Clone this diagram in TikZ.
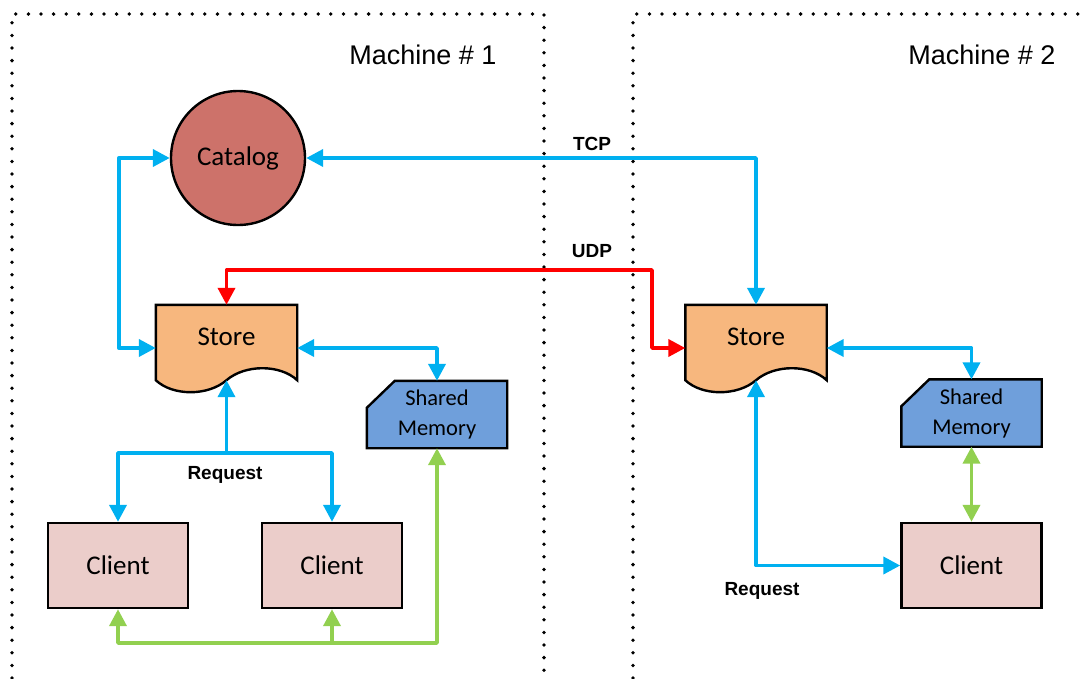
\documentclass[tikz,border=0pt]{standalone}
\usepackage{fontspec}
\setmainfont{Carlito}
\newfontfamily\arialfont{Liberation Sans}
\usetikzlibrary{arrows.meta,calc,backgrounds}

\definecolor{catfill}{RGB}{205,114,106}
\definecolor{storefill}{RGB}{247,183,126}
\definecolor{memfill}{RGB}{111,159,219}
\definecolor{clientfill}{RGB}{235,205,202}
\definecolor{linkblue}{RGB}{0,176,240}
\definecolor{linkred}{RGB}{255,0,0}
\definecolor{linkgreen}{RGB}{146,208,80}

% document-style outline with a wavy bottom edge
\newcommand\docoutline[2]{%
  \filldraw[outline, fill=#2] (#1.north west) -- (#1.north east)
    -- ([yshift=11pt]#1.south east)
    .. controls ([xshift=-17pt,yshift=27pt]#1.south east) and ([xshift=18.5pt,yshift=27pt]#1.south) .. ([yshift=11pt]#1.south)
    .. controls ([xshift=-18.5pt,yshift=-5pt]#1.south) and ([xshift=17pt,yshift=-5pt]#1.south west) .. ([yshift=11pt]#1.south west)
    -- cycle;}
% rectangle with its top-left corner cut off
\newcommand\snipoutline[2]{%
  \filldraw[outline, fill=#2] (#1.south west) -- ([yshift=-27pt]#1.north west)
    -- ([xshift=28pt]#1.north west) -- (#1.north east) -- (#1.south east) -- cycle;}

\tikzset{
  outline/.style={draw=black, line width=2.4pt, line join=miter},
  boxtext/.style={font=\fontsize{27}{30}\selectfont},
  docnode/.style={minimum width=141pt, minimum height=86pt, inner sep=0pt},
  memnode/.style={minimum width=140pt, minimum height=67pt, inner sep=0pt, align=center,
                  font=\fontsize{22.5}{30}\selectfont},
  clientnode/.style={outline, fill=clientfill, minimum width=140pt, minimum height=85pt,
                  inner sep=0pt, boxtext},
  catnode/.style={circle, outline, fill=catfill, minimum size=134pt, inner sep=0pt, boxtext},
  machine/.style={font=\arialfont\fontsize{27}{30}\selectfont},
  linklabel/.style={font=\arialfont\bfseries\fontsize{19}{22}\selectfont},
  conn/.style={line width=3.8pt, line join=round},
  blueconn/.style={conn, draw=linkblue},
  redconn/.style={conn, draw=linkred},
  greenconn/.style={conn, draw=linkgreen},
  region/.style={line width=3.8pt, line cap=round, dash pattern=on 0pt off 12.6pt},
  >={Triangle[length=17pt,width=17pt]}
}

\begin{document}
\begin{tikzpicture}[x=1pt,y=-1pt]
\useasboundingbox (0,0) rectangle (1082,678);

% machine regions
\draw[region] (12,678) -- (12,14) -- (544,14) -- (544,678);
\draw[region] (633,678) -- (633,14) -- (1082,14);
\node[machine] (m1) at (423,55) {Machine \# 1};
\node[machine] (m2) at (982,55) {Machine \# 2};

% machine 1
\node[catnode] (cat) at (238,158) {Catalog};
\node[docnode, label={[boxtext, yshift=11pt]center:Store}] (s1) at (226.5,348) {};
\node[memnode] (sm1) at (437,414.5) {Shared\\Memory};
\node[clientnode] (c1) at (118,565.5) {Client};
\node[clientnode] (c2) at (332,565.5) {Client};

% machine 2
\node[docnode, label={[boxtext, yshift=11pt]center:Store}] (s2) at (756,348) {};
\node[memnode] (sm2) at (971.5,413) {Shared\\Memory};
\node[clientnode] (c3) at (971.5,565.5) {Client};

\begin{pgfonlayer}{background}
  \docoutline{s1}{storefill}
  \docoutline{s2}{storefill}
  \snipoutline{sm1}{memfill}
  \snipoutline{sm2}{memfill}
\end{pgfonlayer}

% bends of the routed connectors
\coordinate (req1) at (226.5,453);
\coordinate (gbus) at (437,643);
\coordinate (udpbend) at (652,270);

% catalog links
\draw[blueconn, <->] (cat.west) -- ++(-51,0) |- (s1.west);
\draw[blueconn, <->] (cat.east) -| (s2.north);
\node[linklabel] (tcp) at (592,144) {TCP};

% store to store
\draw[redconn, <->] (s1.north) |- (udpbend) |- (s2.west);
\node[linklabel] (udp) at (592,251) {UDP};

% machine 1 links
\draw[blueconn, <->] (s1.east) -| (sm1.north);
\draw[blueconn, ->] (req1) -- ([yshift=11pt]s1.south);
\draw[blueconn, <->] (c1.north) |- (req1) -| (c2.north);
\node[linklabel] (rq1) at (225,475) {Request};
\draw[greenconn, <->] (c1.south) |- (gbus) -- (sm1.south);
\draw[greenconn, ->] (c2.south |- gbus) -- (c2.south);

% machine 2 links
\draw[blueconn, <->] (s2.east) -| (sm2.north);
\draw[greenconn, <->] (sm2.south) -- (c3.north);
\draw[blueconn, <->] ([yshift=11pt]s2.south) |- (c3.west);
\node[linklabel] (rq2) at (762,591) {Request};
\end{tikzpicture}
\end{document}
